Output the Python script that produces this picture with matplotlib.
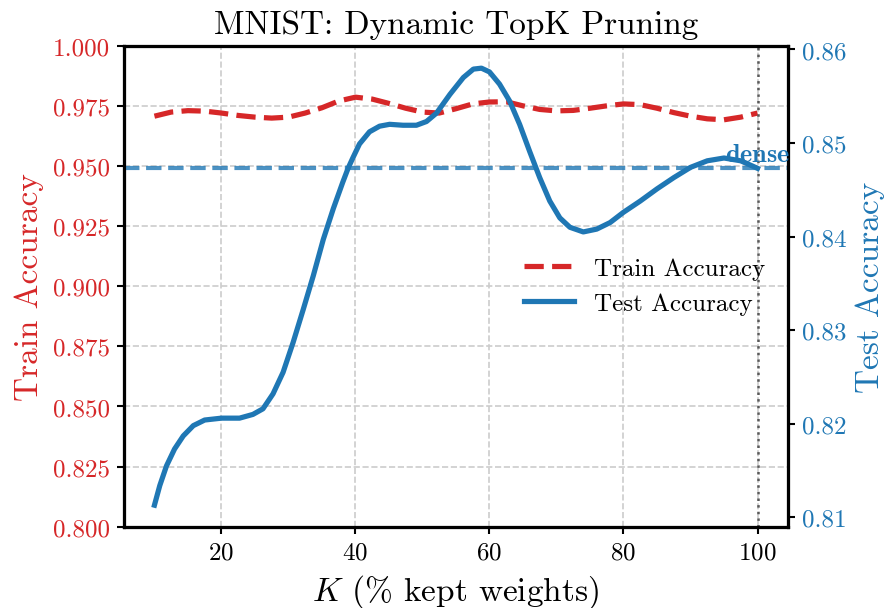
import matplotlib
matplotlib.use('Agg')
import matplotlib.pyplot as plt

plt.rcParams['font.family'] = 'cmr10'  # computer modern, comes with matplotlib
plt.rcParams['mathtext.fontset'] = 'cm'
plt.rcParams['axes.formatter.use_mathtext'] = True
plt.rcParams['axes.unicode_minus'] = False

# K = % of weights kept
k_train = [10, 12.5, 15, 17.5, 20, 22.5, 25, 27.5, 30, 32.5, 35, 37.5, 40, 42.5, 45, 47.5,
           50, 52.5, 55, 57.5, 60, 62.5, 65, 67.5, 70, 72.5, 75, 77.5, 80, 82.5, 85, 87.5,
           90, 92.5, 95, 97.5, 100]
train_acc = [0.9707, 0.9724, 0.9730, 0.9728, 0.9720, 0.9710, 0.9703, 0.9699, 0.9703, 0.9720,
             0.9742, 0.9770, 0.9786, 0.9778, 0.9760, 0.9740, 0.9724, 0.9720, 0.9738, 0.9758,
             0.9766, 0.9767, 0.9750, 0.9735, 0.9729, 0.9731, 0.9740, 0.9750, 0.9758, 0.9755,
             0.9740, 0.9722, 0.9707, 0.9696, 0.9692, 0.9703, 0.9720]

# test curve read at uneven K (denser where it bends)
k_test = [10, 10.8, 11.8, 13, 14.3, 15.8, 17.5, 20, 22.7, 24.7, 26.2, 27.7, 29.2, 30.7,
          32.2, 33.7, 35.2, 36.7, 38.1, 38.9, 39.6, 40.6, 42.1, 43.6, 45.1, 47.1, 49.1,
          50.6, 52.1, 54.1, 56.1, 57.6, 58.8, 60, 61.5, 63, 64.5, 66, 67.5, 69, 70.5, 72,
          74, 76, 78, 80, 82.5, 85, 87.5, 90, 92.5, 95, 97.5, 100]
test_acc = [0.8113, 0.8134, 0.8155, 0.8173, 0.8187, 0.8198, 0.8204, 0.8206, 0.8206, 0.8210,
            0.8216, 0.8232, 0.8255, 0.8287, 0.8322, 0.8358, 0.8397, 0.8430, 0.8458, 0.8473,
            0.8484, 0.8499, 0.8512, 0.8518, 0.8520, 0.8519, 0.8519, 0.8523, 0.8532, 0.8552,
            0.8570, 0.8579, 0.8580, 0.8576, 0.8563, 0.8545, 0.8520, 0.8491, 0.8463, 0.8438,
            0.8420, 0.8410, 0.8405, 0.8408, 0.8415, 0.8426, 0.8438, 0.8451, 0.8463, 0.8474,
            0.8481, 0.8484, 0.8481, 0.8473]

dense_test = 0.8473  # dense model test accuracy

red = 'tab:red'
blue = 'tab:blue'

fig = plt.figure(figsize=(889/150, 609/150), dpi=150)
ax = fig.add_axes([0.1398, 0.1335, 0.886 - 0.1398, 0.9233 - 0.1335])
ax2 = ax.twinx()

l1, = ax.plot(k_train, train_acc, '--', color=red, lw=2.5, label='Train Accuracy')
l2, = ax2.plot(k_test, test_acc, '-', color=blue, lw=2.5, label='Test Accuracy')

ax2.axhline(dense_test, color=blue, ls='--', lw=2, alpha=0.8)
ax2.text(100, dense_test + 0.0002, r'$\mathbf{dense}$', color=blue, fontsize=12.5,
         ha='center', va='bottom')
ax.axvline(100, color='0.35', ls=':', lw=1.2)

ax.set_xlim(5.5, 104.5)
ax.set_ylim(0.8, 1.0)
ax2.set_ylim(0.809, 0.8604)
ax.set_xticks([20, 40, 60, 80, 100])
ax.set_yticks([0.8, 0.825, 0.85, 0.875, 0.9, 0.925, 0.95, 0.975, 1.0])
ax.set_yticklabels(['%.3f' % v for v in ax.get_yticks()])
ax2.set_yticks([0.81, 0.82, 0.83, 0.84, 0.85, 0.86])
ax2.set_yticklabels(['%.2f' % v for v in ax2.get_yticks()])

ax.grid(True, ls='--', color='0.8', lw=0.8)
ax.tick_params(axis='both', labelsize=12, width=1, length=3.5)
ax.tick_params(axis='y', labelcolor=red)
ax2.tick_params(axis='y', labelsize=12, labelcolor=blue, width=1, length=3.5)
for a in (ax, ax2):
    for s in a.spines.values():
        s.set_linewidth(1.5)

ax.set_xlabel(r'$K$ (% kept weights)', fontsize=16)
ax.set_ylabel('Train Accuracy', color=red, fontsize=16)
ax2.set_ylabel('Test Accuracy', color=blue, fontsize=16)
ax.set_title('MNIST: Dynamic TopK Pruning', fontsize=16)

ax2.legend([l1, l2], ['Train Accuracy', 'Test Accuracy'], loc='center right',
           frameon=False, fontsize=12)

fig.savefig('out.png', dpi=150)
